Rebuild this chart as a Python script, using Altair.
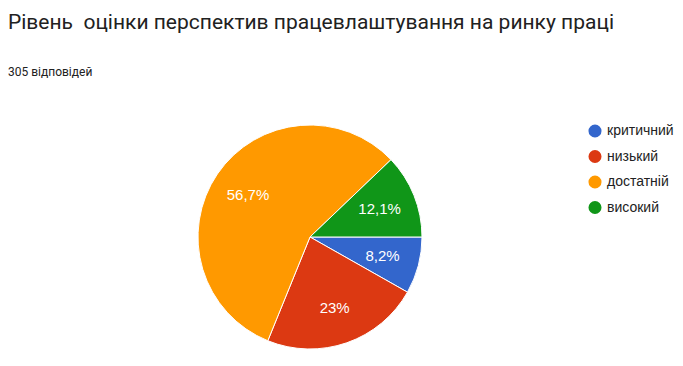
import altair as alt
import pandas as pd
import math

categories = ["критичний", "низький", "достатній", "високий"]
counts = [25, 70, 173, 37]
colors = ["#3366cc", "#dc3912", "#ff9900", "#109618"]
total = sum(counts)

labels = []
for c in counts:
    p = round(c / total * 100, 1)
    s = f"{p:g}".replace(".", ",") + "%"
    labels.append(s)

df = pd.DataFrame({
    "category": categories,
    "count": counts,
    "label": labels,
    "order": list(range(len(categories))),
})

theta_scale = alt.Scale(range=[math.pi / 2, math.pi / 2 + 2 * math.pi])
cx, cy = 302, 149

base = alt.Chart(df).encode(
    theta=alt.Theta("count:Q", stack=True, scale=theta_scale),
    order=alt.Order("order:Q"),
)

arcs = base.mark_arc(outerRadius=112, stroke="white", strokeWidth=1).encode(
    x=alt.value(cx),
    y=alt.value(cy),
    color=alt.Color(
        "category:N",
        scale=alt.Scale(domain=categories, range=colors),
        sort=categories,
        legend=alt.Legend(
            title=None,
            orient="none",
            legendX=580,
            legendY=36,
            symbolType="circle",
            symbolSize=170,
            symbolStrokeWidth=0,
            labelFont="Liberation Sans",
            labelFontSize=14,
            labelColor="#222222",
            rowPadding=11.5,
            labelOffset=5,
            labelLimit=200,
        ),
    ),
)

texts = base.mark_text(radius=75, color="white", font="Liberation Sans", fontSize=15).encode(
    x=alt.value(cx),
    y=alt.value(cy),
    text="label:N",
)

chart = alt.layer(arcs, texts).properties(
    width=667,
    height=270,
    autosize=alt.AutoSizeParams(type="none"),
    padding={"left": 0, "top": 80, "right": 0, "bottom": 0},
    title=alt.TitleParams(
        text="Рівень\u00a0 оцінки перспектив працевлаштування на ринку праці",
        subtitle="305 відповідей",
        anchor="start",
        frame="group",
        font="Roboto",
        fontSize=21,
        fontWeight="normal",
        color="#212121",
        subtitleFont="Roboto",
        subtitleFontSize=12,
        subtitleColor="#212121",
        subtitlePadding=34,
        offset=10,
    ),
).configure_view(stroke=None)

chart.save("out.html", embed_options={"renderer": "svg", "actions": False})
